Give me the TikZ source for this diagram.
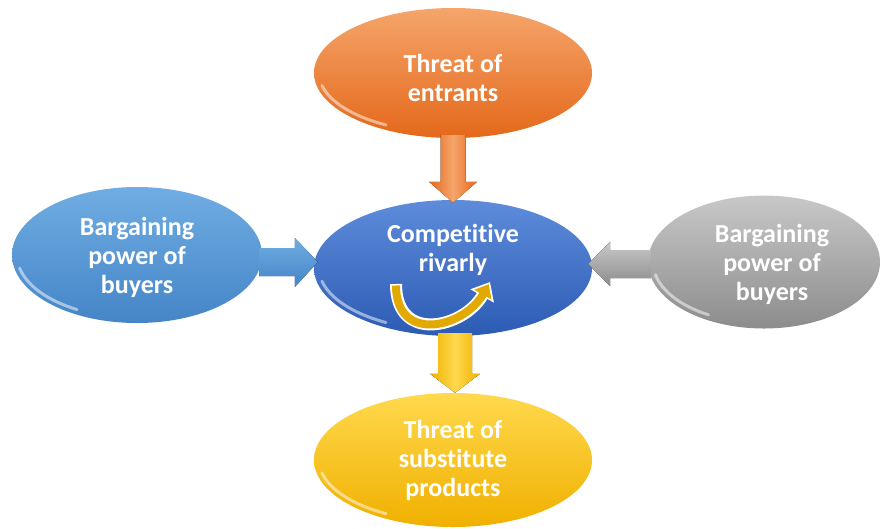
\documentclass[tikz,border=0pt]{standalone}
\usepackage{fontspec}
\setmainfont[Ligatures={NoCommon,NoRequired,NoContextual},RawFeature={-liga;-calt;-clig;-dlig}]{Carlito}
\usetikzlibrary{shapes.geometric,calc,arrows.meta}
\definecolor{or1}{HTML}{F5A56B}
\definecolor{or2}{HTML}{E4681A}
\definecolor{bl1}{HTML}{5E8CDB}
\definecolor{bl2}{HTML}{2C5BB4}
\definecolor{lb1}{HTML}{70ADE3}
\definecolor{lb2}{HTML}{4585C7}
\definecolor{gr1}{HTML}{C8C8C8}
\definecolor{gr2}{HTML}{8C8C8C}
\definecolor{ye1}{HTML}{FFD94D}
\definecolor{ye2}{HTML}{F0B000}
\definecolor{gold}{HTML}{E2AA00}
\newcommand\nolig{\kern0pt }
\begin{document}
\begin{tikzpicture}[x=1pt,y=-1pt,
  oval/.style={ellipse, inner sep=0pt, minimum width=278pt, minimum height=134pt},
  lbl/.style={text=white, font=\fontsize{26}{29}\selectfont\bfseries, align=center},
  gloss/.style={white, opacity=0.5, line width=3pt, line cap=round}]
\useasboundingbox (0,0) rectangle (882,528);

% ellipses
\node[oval, minimum height=130pt, top color=or1, bottom color=or2] (ent) at (453,73) {};
\node[oval, minimum height=136pt, top color=bl1, bottom color=bl2] (cen) at (453,268) {};
\node[oval, minimum width=250pt, minimum height=136pt, top color=lb1, bottom color=lb2] (buy) at (137,255) {};
\node[oval, minimum width=232pt, minimum height=133pt, top color=gr1, bottom color=gr2] (sup) at (764,262) {};
\node[oval, minimum height=134pt, top color=ye1, bottom color=ye2] (sub) at (453,460) {};

% gloss highlights
\foreach \n/\rx/\ry in {ent/139/65, cen/139/68, buy/125/68, sup/116/66, sub/139/67}{
  \draw[gloss] ($(\n.center)+({(\rx-5)*cos(120)},{(\ry-5)*sin(120)})$)
    arc[start angle=120, end angle=168, x radius=\rx-5, y radius=\ry-5];
}

% labels
\node[lbl] (entT) at (453,78) {Threat of\\entrants};
\node[lbl] (cenT) at (453,250) {Compet\nolig it\nolig ive\\rivarly};
\node[lbl] (buyT) at (137,257) {Bargaining\\power of\\buyers};
\node[lbl] (supT) at (772,264) {Bargaining\\power of\\buyers};
\node[lbl] (subT) at (453,460) {Threat of\\subst\nolig itute\\products};

% block arrows
\coordinate (ta) at ($(ent.south)+(0,-3)$);
\coordinate (tb) at ($(cen.north)+(0,3)$);
\fill[left color=or2, right color=or2, middle color=or1]
  ($(ta)+(-12.5,0)$) -- ($(tb)+(-12.5,-21)$) -- ($(tb)+(-24,-21)$) -- (tb)
  -- ($(tb)+(24,-21)$) -- ($(tb)+(12.5,-21)$) -- ($(ta)+(12.5,0)$) -- cycle;

\coordinate (la) at ($(buy.east)+(-3,7)$);
\coordinate (lb) at ($(cen.west)+(4,-6)$);
\fill[top color=lb1, bottom color=lb2]
  ($(la)+(0,-14)$) -- ($(lb)+(-23,-14)$) -- ($(lb)+(-23,-24)$) -- (lb)
  -- ($(lb)+(-23,25)$) -- ($(lb)+(-23,14)$) -- ($(la)+(0,14)$) -- cycle;

\coordinate (ra) at ($(sup.west)+(3,2)$);
\coordinate (rb) at ($(cen.east)+(-4,-4)$);
\fill[top color=gr1, bottom color=gr2]
  ($(ra)+(0,-14)$) -- ($(rb)+(22,-14)$) -- ($(rb)+(22,-22)$) -- (rb)
  -- ($(rb)+(22,22)$) -- ($(rb)+(22,14)$) -- ($(ra)+(0,14)$) -- cycle;

\coordinate (ba) at ($(cen.south)+(2,-3)$);
\coordinate (bb) at ($(sub.north)+(2,0)$);
\fill[left color=ye2, right color=ye2, middle color=ye1]
  ($(ba)+(-17,0)$) -- ($(bb)+(-17,-19)$) -- ($(bb)+(-25,-19)$) -- (bb)
  -- ($(bb)+(25,-19)$) -- ($(bb)+(17,-19)$) -- ($(ba)+(17,0)$) -- cycle;

% curved arrow in the centre
\coordinate (cs) at ($(cen.center)+(-57,16)$);
\coordinate (ce) at ($(cen.center)+(37,14)$);
\draw[white, line width=12pt, -{Triangle[length=16pt,width=26pt]}]
  (cs) .. controls +(0,60) and +(-26,46) .. (ce);
\draw[gold, line width=8pt, shorten <=1.5pt, shorten >=2.5pt, -{Triangle[length=12pt,width=19pt]}]
  (cs) .. controls +(0,60) and +(-26,46) .. (ce);
\end{tikzpicture}
\end{document}
